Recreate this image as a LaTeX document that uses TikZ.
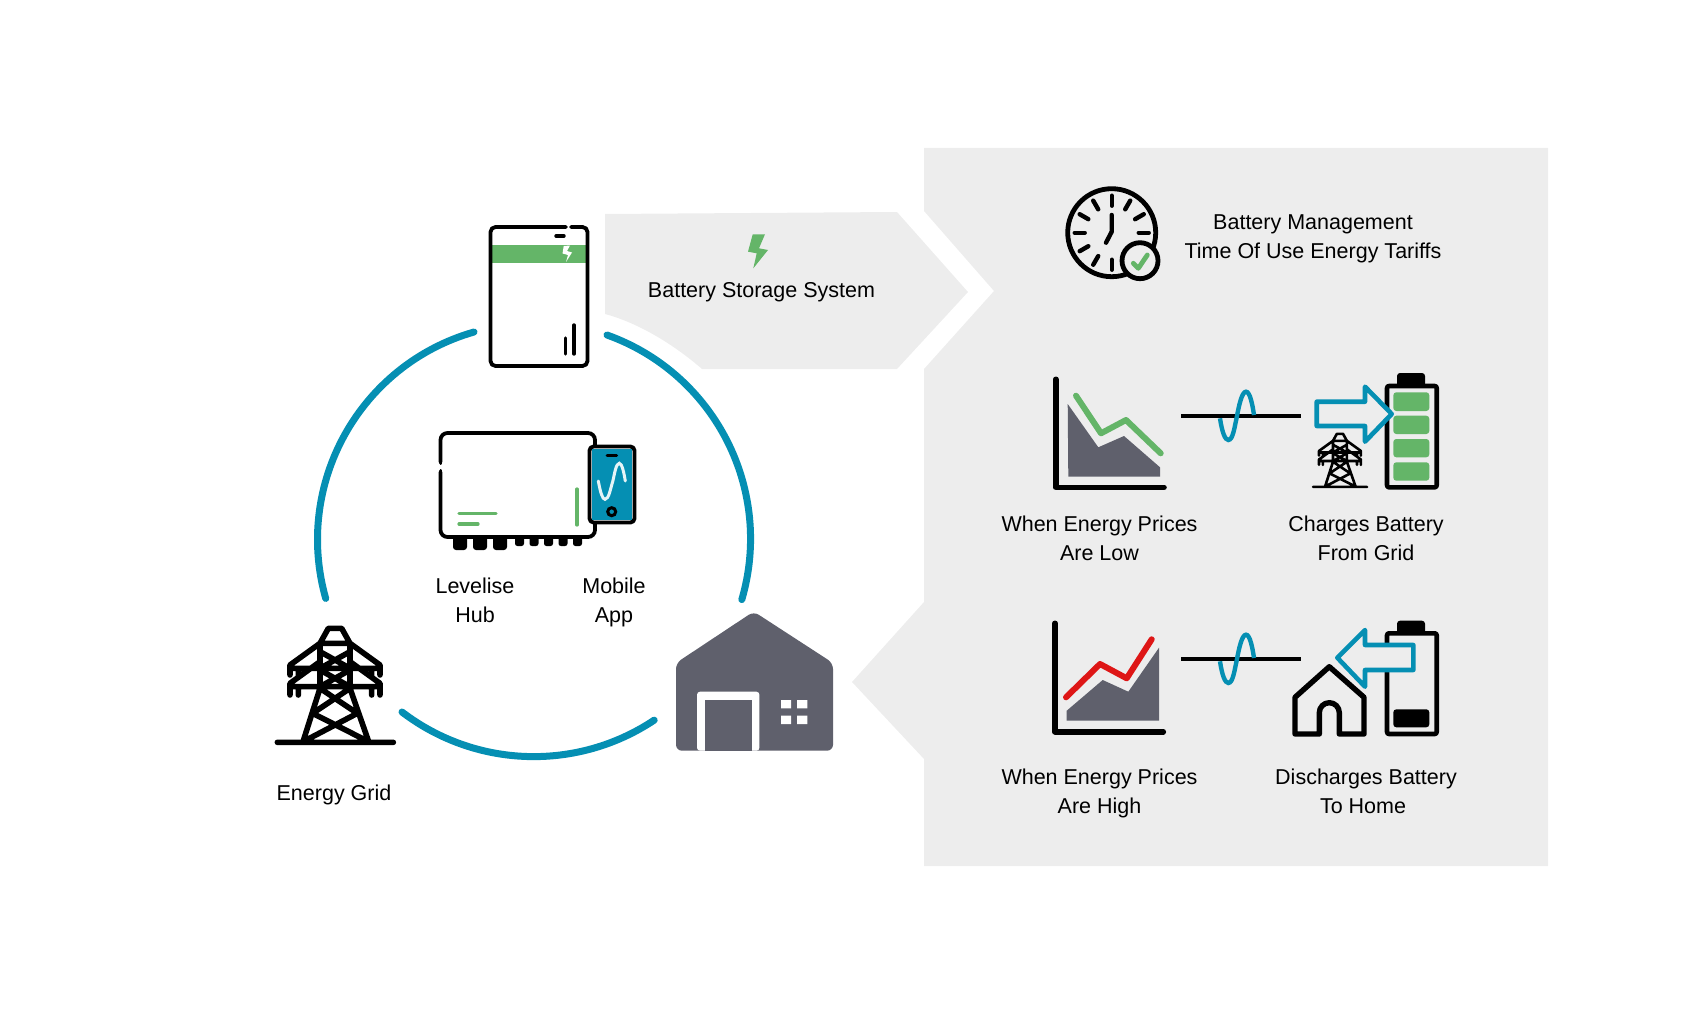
\documentclass[tikz,border=0pt]{standalone}
\usetikzlibrary{calc}
\usepackage{fontspec}
\setmainfont{Liberation Sans}
\definecolor{panelgray}{HTML}{EDEDED}
\definecolor{ringblue}{HTML}{058FB3}
\definecolor{leafgreen}{HTML}{64B568}
\definecolor{slategray}{HTML}{5F606C}
\definecolor{alertred}{HTML}{DE1616}
\tikzset{
  px/.style={line width=#1*0.5pt},
  label/.style={font=\fontsize{10.75pt}{12pt}\selectfont, anchor=base, inner sep=0pt, text=black},
  ring/.style={draw=ringblue, px=7, line cap=round},
  stroke/.style={draw=black, px=#1, line cap=round, line join=round},
  wave/.style={draw=ringblue, px=4.4, line cap=butt},
  flowarrow/.style={draw=ringblue, fill=panelgray, px=4.6, line join=round},
  cell/.style={rounded corners=1.5pt},
  tower/.pic={
    \draw[stroke=#1]
      (150,70)--(175,25)--(215,25)--(240,70)--cycle
      (150,70)--(60,135)--(60,165) (60,145)--(330,145) (240,70)--(330,135)--(330,165)
      (85,145)--(85,165) (305,145)--(305,165)
      (150,125)--(60,190)--(60,225) (60,200)--(330,200) (240,125)--(330,190)--(330,225)
      (85,200)--(85,225) (305,200)--(305,225)
      (150,70)--(150,205)--(100,362) (240,70)--(240,205)--(295,362)
      (150,95)--(240,145) (240,95)--(150,145) (150,150)--(240,200) (240,150)--(150,200)
      (150,205)--(262,280)--(105,362) (240,205)--(128,280)--(290,362)
      (22,367)--(370,367);
  },
}
\begin{document}
\begin{tikzpicture}[x=0.5pt,y=-0.5pt]
\useasboundingbox (0,0) rectangle (1700,1016);
% right panel
\fill[panelgray] (924,148) -- (1548,148) -- (1548,866) -- (924,866) -- (924,759) -- (852,682) -- (924,602) -- (924,369) -- (994,291) -- (924,211) -- cycle;
% arrow shape
\fill[panelgray] (605,214) -- (897,212) -- (968,292) -- (897,369) -- (702,369)
  .. controls (672,343) and (640,325) .. (612,316) -- (605,314) -- cycle;
% ring
\draw[ring] (607,335) arc[start angle=-70.3,end angle=16.3,radius=216.5];
\draw[ring] (474,332) arc[start angle=-106,end angle=-195.8,radius=216];
\draw[ring] (402,712) arc[start angle=127.4,end angle=56.3,radius=217];
% battery
\fill[leafgreen] (492,245) rectangle (586,263);
\draw[stroke=3.8,rounded corners=2.5pt] (566,227) -- (490.5,227) -- (490.5,366) -- (587.5,366) -- (587.5,227) -- (571,227);
\draw[stroke=3.4] (556,236) -- (564,236) (565.5,338) -- (565.5,354) (574,325) -- (574,354);
\fill[white] (563.7,246) -- (570,245.5) -- (567,251) -- (572,252.5) -- (566,262) -- (568,255) -- (562.5,253.5) -- cycle;
% bolt
\fill[leafgreen] (752.7,234.3) -- (765,234.3) -- (759,248.3) -- (768,250) -- (753.3,268.3) -- (756.7,253.3) -- (748,251.7) -- cycle;
% hub
\foreach \a/\b in {453/467,473/487,493/507}
  \fill[black,rounded corners=1.5pt] (\a,530) rectangle (\b,550);
\foreach \a/\b in {515/524,529.5/538.5,544/553,558.5/567.5,573/582}
  \fill[black,rounded corners=1.2pt] (\a,530) rectangle (\b,546);
\draw[stroke=3.8,fill=white,rounded corners=3.5pt] (440.5,462) -- (440.5,433) -- (595,433) -- (595,537) -- (440.5,537) -- (440.5,472);
\fill[white] (439,464) rectangle (442.5,470);
\draw[stroke=3.8] (440.5,461) -- (440.5,463) (440.5,471) -- (440.5,473);
\draw[draw=leafgreen,px=3.2,line cap=round] (459,513.7) -- (496,513.7) (459,524) -- (478,524) (577,489) -- (577,525);
% phone
\draw[stroke=3.8,fill=white,rounded corners=2pt] (589.5,446.5) rectangle (634.5,522.5);
\fill[ringblue] (592,449) rectangle (632,520);
\draw[stroke=3] (607,455) -- (616.5,455);
\draw[draw=black,px=3,fill=ringblue] (611.7,511.7) circle[radius=4];
\draw[draw=white,px=3,line cap=round,opacity=.9] (598.3,481) .. controls (600.5,493) and (602.5,499.3) .. (605,499.3)
  .. controls (609,499.3) and (610.5,488) .. (612.7,481.7) .. controls (614.5,474) and (616,463.3) .. (619.3,463.3)
  .. controls (622,463.3) and (624,473) .. (625.3,481);
% tower
\pic[scale=1/3] at (270,620) {tower={5.6}};
% house
\fill[slategray,rounded corners=3pt] (753.7,611.5) -- (833,663) -- (833,750.7) -- (676,750.7) -- (676,663) -- cycle;
\fill[white,rounded corners=1.5pt] (697,750.7) -- (697,691.7) -- (759.4,691.7) -- (759.4,750.7) -- cycle;
\fill[slategray] (705,699.5) rectangle (751.8,750.7);
\fill[white] (781,700) rectangle (791,708.3) (797,700) rectangle (807.3,708.3) (781,715.7) rectangle (791,724) (797,715.7) rectangle (807.3,724);
% clock
\draw[stroke=4.8] (1111.7,232.7) circle[radius=44];
\foreach \ang in {0,30,60,90,180,210,240,270,300,330}
  \draw[stroke=4.4] ($(1111.7,232.7)+(\ang-90:27)$) -- ($(1111.7,232.7)+(\ang-90:37)$);
\draw[stroke=4.4] (1111.7,215) -- (1111.7,231.7) -- (1106,242.7);
\draw[stroke=4.8,fill=panelgray] (1140,260.7) circle[radius=18];
\draw[draw=leafgreen,px=4.8,line cap=round,line join=round] (1133.3,263.3) -- (1138.3,268.3) -- (1147.3,255);
% chart low
\fill[slategray] (1067.7,404) -- (1098.3,447.3) -- (1124,436) -- (1160,467.3) -- (1160,476.7) -- (1068.3,476.7) -- cycle;
\draw[draw=leafgreen,px=6,line cap=round,line join=round] (1076,395.7) -- (1101,433.3) -- (1126,420) -- (1160.7,453.3);
\draw[stroke=5.6] (1055.7,379.3) -- (1055.7,487.3) -- (1164,487.3);
% wave low
\draw[stroke=3.6,line cap=butt] (1181,416) -- (1300.7,416);
\draw[wave] (1220,418.3) .. controls (1222,432) and (1225,440) .. (1228.3,440)
  .. controls (1233,440) and (1234.5,427) .. (1237,416) .. controls (1239,405) and (1242,391.7) .. (1246,391.7)
  .. controls (1250,391.7) and (1252.5,405) .. (1254,415);
% battery charge
\fill[black,rounded corners=1.5pt] (1397,373) rectangle (1425,390);
\draw[stroke=4.6,fill=panelgray,rounded corners=1pt] (1387,386) rectangle (1436.7,487.3);
\foreach \t/\b in {392.3/411,415.7/434,439/457.3,462.3/480.7}
  \fill[leafgreen,cell] (1393.3,\t) rectangle (1429.3,\b);
\draw[flowarrow] (1316.7,401.7) -- (1365,401.7) -- (1365,386.7) -- (1391.7,414) -- (1365,441.7) -- (1365,426) -- (1316.7,426) -- cycle;
\pic[scale=.155] at (1309.7,430) {tower={2.6}};
% chart high
\fill[slategray] (1066.7,710.7) -- (1102.7,680) -- (1128.3,691.7) -- (1159,647.7) -- (1159,720.7) -- (1066.7,720.7) -- cycle;
\draw[draw=alertred,px=6,line cap=round,line join=round] (1066,697.3) -- (1100,664) -- (1126.7,678.3) -- (1151.7,639.3);
\draw[stroke=5.6] (1055,623.3) -- (1055,731.7) -- (1163.3,731.7);
% wave high
\draw[stroke=3.6,line cap=butt] (1181,659) -- (1300.7,659);
\draw[wave] (1220,661.3) .. controls (1222,675) and (1225,683) .. (1228.3,683)
  .. controls (1233,683) and (1234.5,670) .. (1237,659) .. controls (1239,648) and (1242,634.7) .. (1246,634.7)
  .. controls (1250,634.7) and (1252.5,648) .. (1254,658);
% battery discharge
\fill[black,rounded corners=1.5pt] (1397,620.7) rectangle (1425,637);
\draw[stroke=4.6,fill=panelgray,rounded corners=1pt] (1387,633.3) rectangle (1436.7,734);
\fill[black,cell] (1393.3,709.3) rectangle (1429.3,727.3);
\draw[flowarrow] (1413.3,645) -- (1365,645) -- (1365,630) -- (1337.3,657.7) -- (1365,686.7) -- (1365,670) -- (1413.3,670) -- cycle;
% small home
\draw[stroke=5.4] (1295,734) -- (1295,697.3) -- (1329.3,666.7) -- (1364,697.3) -- (1364,734) -- (1339.3,734) -- (1339.3,712.7) arc[start angle=0,end angle=-180,radius=10] -- (1319.3,734) -- cycle;
% labels
\node[label] (bss) at (761.5,297) {Battery Storage System};
\node[label] (bm1) at (1313,229) {Battery Management};
\node[label] (bm2) at (1313,258) {Time Of Use Energy Tariffs};
\node[label] (lv1) at (475,593.5) {Levelise};
\node[label] (lv2) at (475,622.5) {Hub};
\node[label] (mb1) at (614,593.5) {Mobile};
\node[label] (mb2) at (614,622.5) {App};
\node[label] (eg) at (334,800) {Energy Grid};
\node[label] (lo1) at (1099.5,531) {When Energy Prices};
\node[label] (lo2) at (1099.5,560) {Are Low};
\node[label] (ch1) at (1366,531) {Charges Battery};
\node[label] (ch2) at (1366,560) {From Grid};
\node[label] (hi1) at (1099.5,784) {When Energy Prices};
\node[label] (hi2) at (1099.5,813) {Are High};
\node[label] (di1) at (1366,784) {Discharges Battery};
\node[label] (di2) at (1363,813) {To Home};
\end{tikzpicture}
\end{document}
